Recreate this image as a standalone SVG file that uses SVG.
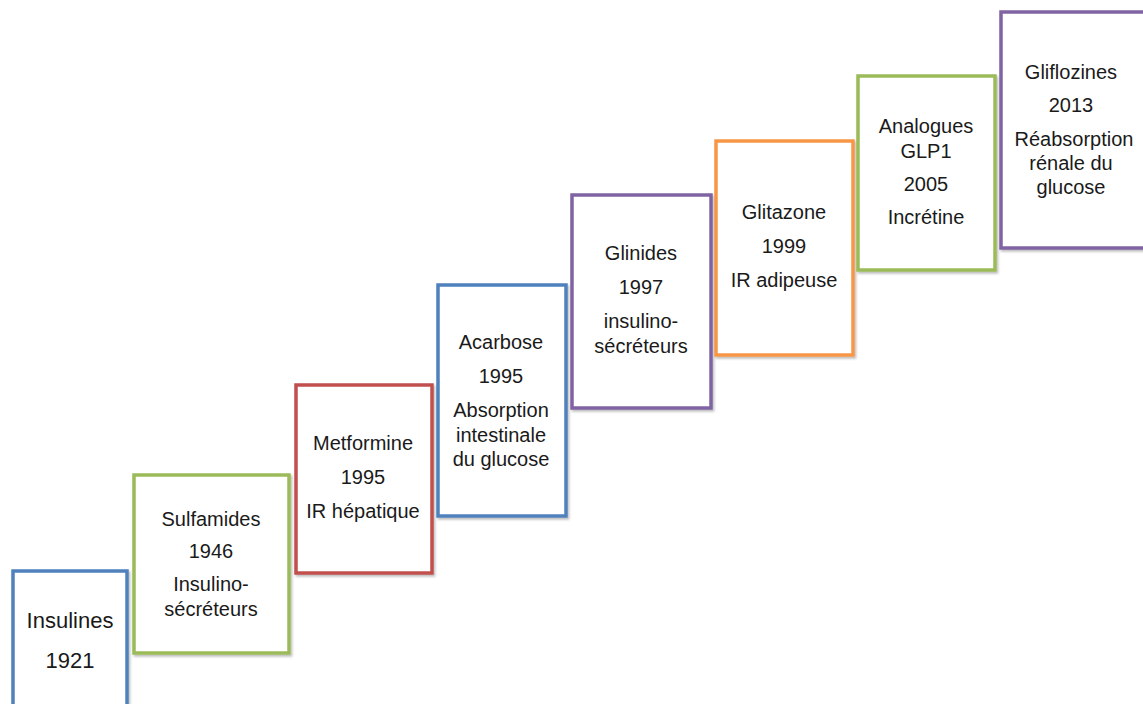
<svg xmlns="http://www.w3.org/2000/svg" width="1143" height="704" viewBox="0 0 1143 704">
<defs>
<filter id="sh" x="-10%" y="-10%" width="130%" height="130%">
<feDropShadow dx="1.5" dy="2" stdDeviation="1.2" flood-color="#000" flood-opacity="0.25"/>
</filter>
</defs>
<style>
rect{fill:#fff;stroke-width:3.5;filter:url(#sh)}
.b{stroke:#4F81BD}.g{stroke:#9BBB59}.r{stroke:#C0504D}.p{stroke:#8064A2}.o{stroke:#F79646}
text{font-family:"Liberation Sans",Arial,sans-serif;font-size:20px;fill:#1a1a1a;text-anchor:middle}
.big{font-size:22px}
</style>
<rect width="1143" height="704" fill="#fff" stroke="none" style="filter:none"/>
<g id="insulines">
<rect class="b" x="13" y="571" width="114" height="150"/>
<text class="big" x="70" y="628">Insulines</text>
<text class="big" x="70" y="668">1921</text>
</g>
<g id="sulfamides">
<rect class="g" x="134" y="475" width="155" height="178"/>
<text x="211" y="526">Sulfamides</text>
<text x="211" y="558">1946</text>
<text x="211" y="591">Insulino-</text>
<text x="211" y="616">sécréteurs</text>
</g>
<g id="metformine">
<rect class="r" x="296" y="385" width="136" height="188"/>
<text x="363" y="450">Metformine</text>
<text x="363" y="484">1995</text>
<text x="363" y="518">IR hépatique</text>
</g>
<g id="acarbose">
<rect class="b" x="438" y="285" width="128" height="231"/>
<text x="501" y="349">Acarbose</text>
<text x="501" y="383">1995</text>
<text x="501" y="417">Absorption</text>
<text x="501" y="442">intestinale</text>
<text x="501" y="466">du glucose</text>
</g>
<g id="glinides">
<rect class="p" x="572" y="195" width="139" height="213"/>
<text x="641" y="260">Glinides</text>
<text x="641" y="294">1997</text>
<text x="641" y="328">insulino-</text>
<text x="641" y="353">sécréteurs</text>
</g>
<g id="glitazone">
<rect class="o" x="716" y="141" width="137" height="214"/>
<text x="784" y="219">Glitazone</text>
<text x="784" y="253">1999</text>
<text x="784" y="287">IR adipeuse</text>
</g>
<g id="analogues">
<rect class="g" x="858" y="76" width="137" height="194"/>
<text x="926" y="133">Analogues</text>
<text x="926" y="158">GLP1</text>
<text x="926" y="191">2005</text>
<text x="926" y="224">Incrétine</text>
</g>
<g id="gliflozines">
<rect class="p" x="1001" y="12" width="160" height="236"/>
<text x="1071" y="79">Gliflozines</text>
<text x="1071" y="112">2013</text>
<text x="1074" y="146">Réabsorption</text>
<text x="1071" y="170">rénale du</text>
<text x="1071" y="194">glucose</text>
</g>
<g id="connectors"/>
</svg>
